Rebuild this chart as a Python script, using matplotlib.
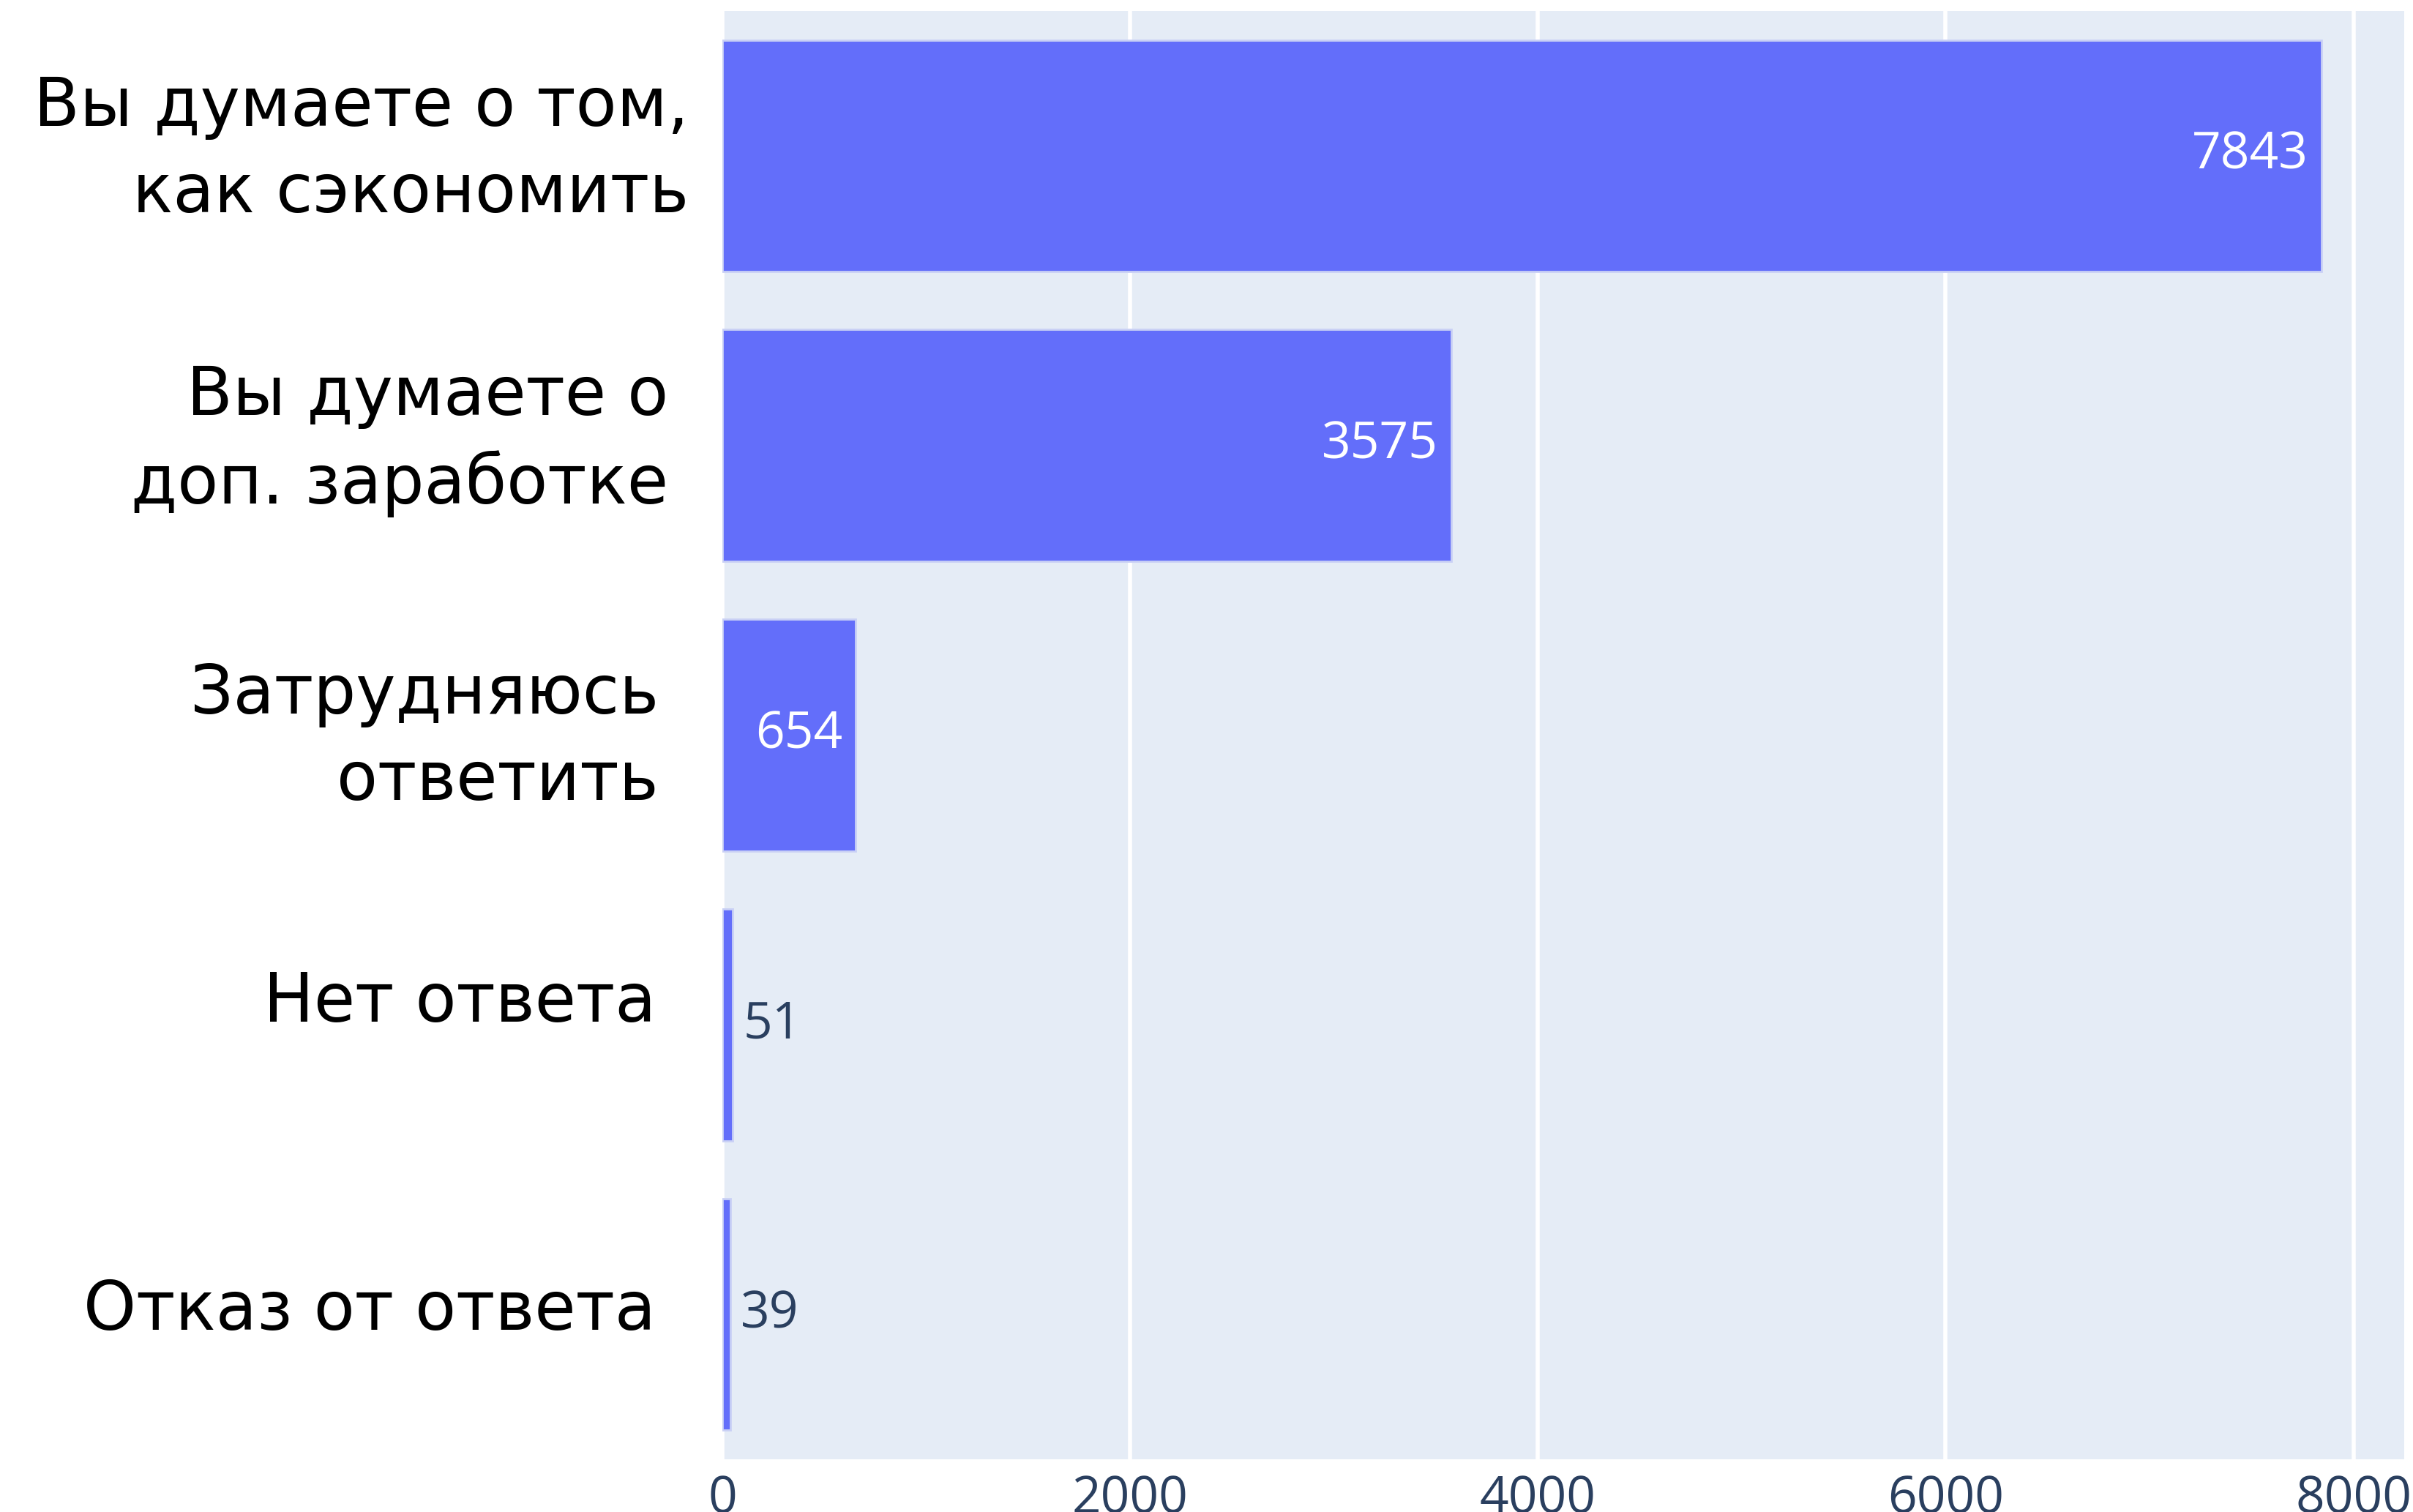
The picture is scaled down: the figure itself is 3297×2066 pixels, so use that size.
import numpy as np
import matplotlib.pyplot as plt
from matplotlib.transforms import ScaledTranslation

plt.rcParams['font.family'] = ['Open Sans', 'DejaVu Sans']

categories = [
    'Вы думаете о том,\nкак сэкономить',
    'Вы думаете о\nдоп. заработке',
    'Затрудняюсь\nответить',
    'Нет ответа',
    'Отказ от ответа',
]
counts = [7843, 3575, 654, 51, 39]
xticks = [0, 2000, 4000, 6000, 8000]

# small per-label nudges (pixels) so the labels sit like in the original
label_dx = [45, 17, 4, 0, 0]
label_dy = [-77, -79, -89, 4, -21]

fig = plt.figure(figsize=(32.98, 20.66), dpi=100)
ax = fig.add_axes([0.2993, 0.0349, 0.9961 - 0.2993, 0.9927 - 0.0349])
ax.set_facecolor('#E5ECF6')

ind = np.arange(len(categories))
bars = ax.barh(ind, counts, height=0.8, color='#636EFA',
               edgecolor='#C9D0F5', linewidth=2, zorder=3)

ax.set_xlim(0, 8250)
ax.set_ylim(len(categories) - 0.5, -0.5)

ax.set_xticks(xticks)
ax.set_xticklabels([str(t) for t in xticks], fontsize=50, color='#2a3f5f')
ax.set_yticks(ind)
ax.set_yticklabels(categories, fontsize=66, color='black', family=['DejaVu Sans'],
                   ha='right', va='baseline', multialignment='right', linespacing=1.4)
ax.tick_params(axis='x', length=0, pad=15)
ax.tick_params(axis='y', length=0, pad=65.5)

for lab, dx, dy in zip(ax.get_yticklabels(), label_dx, label_dy):
    lab.set_transform(lab.get_transform() + ScaledTranslation(dx / 100, dy / 100, fig.dpi_scale_trans))

ax.grid(True, axis='x', color='white', linewidth=4, zorder=0)
for s in ax.spines.values():
    s.set_visible(False)

## value labels: inside for big bars, outside for tiny ones
for i, v in enumerate(counts):
    if v > 400:
        ax.annotate(str(v), xy=(v, i), xytext=(-13, 0), textcoords='offset points',
                    ha='right', va='center', fontsize=50, color='white', zorder=4)
    else:
        ax.annotate(str(v), xy=(v, i), xytext=(10, 0), textcoords='offset points',
                    ha='left', va='center', fontsize=50, color='#2a3f5f', zorder=4)

fig.savefig('out.png', dpi=100)
